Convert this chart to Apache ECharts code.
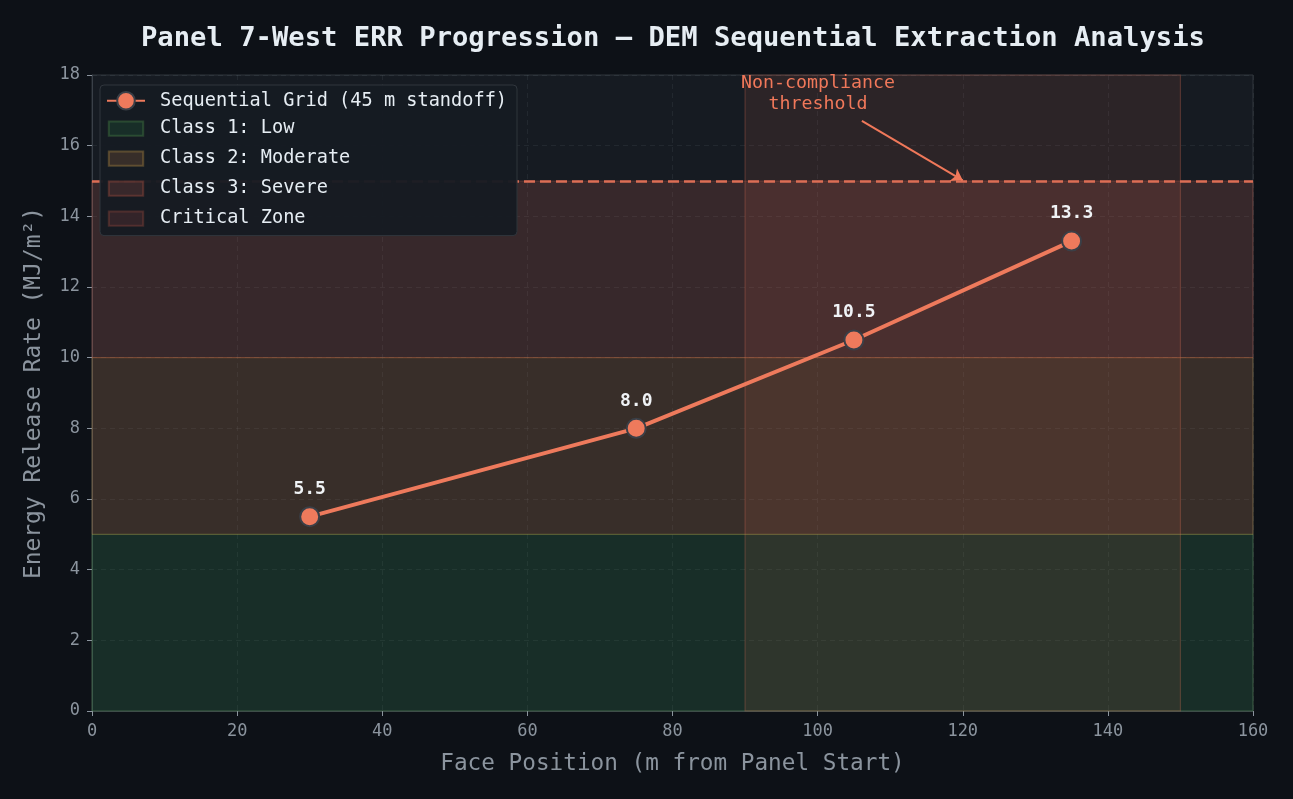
<!DOCTYPE html>
<html>
<head>
<meta charset="utf-8">
<script src="https://cdn.jsdelivr.net/npm/echarts@6/dist/echarts.min.js"></script>
<style>
  html, body { margin: 0; padding: 0; background: #0d1117; }
  #chart { width: 1293px; height: 799px; }
</style>
</head>
<body>
<div id="chart"></div>
<script>
const facePos = [30, 75, 105, 135];
const errValues = [5.5, 8.0, 10.5, 13.3];
const threshold = 15;
// hazard class bands [from, to] on the y axis
const classBands = [
  { name: 'Class 1: Low', from: 0, to: 5 },
  { name: 'Class 2: Moderate', from: 5, to: 10 },
  { name: 'Class 3: Severe', from: 10, to: 15 }
];
const criticalZone = [90, 150];

const FONT = 'DejaVu Sans Mono';
const lineColor = '#ee7a5c';
const bandColors = ['rgba(46,165,80,0.14)', 'rgba(210,135,75,0.18)', 'rgba(230,110,95,0.16)'];
const bandBorders = ['rgba(90,160,80,0.30)', 'rgba(190,150,70,0.35)', 'rgba(200,90,70,0.30)'];
const critColor = 'rgba(245,120,90,0.10)';
// rect swatch with vertical padding so it sits smaller than the legend box
const swatch = 'path://M0 0 M0 4 L36 4 L36 19 L0 19 Z M36 23';

const chart = echarts.init(document.getElementById('chart'));

const series = [];
classBands.forEach((b, i) => {
  series.push({
    name: b.name,
    type: 'line',
    data: [],
    color: bandColors[i],
    itemStyle: { color: bandColors[i], borderColor: bandBorders[i], borderWidth: 1 },
    markArea: {
      silent: true,
      itemStyle: { color: bandColors[i], borderColor: bandBorders[i], borderWidth: 1 },
      data: [[{ yAxis: b.from, xAxis: 0 }, { yAxis: b.to, xAxis: 160 }]]
    }
  });
});
series.push({
  name: 'Critical Zone',
  type: 'line',
  data: [],
  itemStyle: { color: 'rgba(200,90,80,0.16)', borderColor: 'rgba(200,90,70,0.25)', borderWidth: 1 },
  markArea: {
    silent: true,
    itemStyle: { color: critColor, borderColor: 'rgba(240,120,90,0.25)', borderWidth: 1.2 },
    data: [[{ xAxis: criticalZone[0], yAxis: 0 }, { xAxis: criticalZone[1], yAxis: 18 }]]
  }
});
series.push({
  name: 'Sequential Grid (45 m standoff)',
  type: 'line',
  data: facePos.map((x, i) => [x, errValues[i]]),
  z: 5,
  symbol: 'circle',
  symbolSize: 19,
  lineStyle: { color: lineColor, width: 4 },
  itemStyle: { color: lineColor, borderColor: '#3a3f47', borderWidth: 2 },
  label: {
    show: true,
    position: 'top',
    distance: 8,
    color: '#f0f3f6',
    fontFamily: FONT,
    fontWeight: 'bold',
    fontSize: 18,
    formatter: p => p.value[1].toFixed(1)
  },
  markLine: {
    silent: true,
    symbol: 'none',
    label: { show: false },
    lineStyle: { color: '#dc6e55', type: [11, 5], width: 2.5 },
    data: [{ yAxis: threshold }]
  }
});
// annotation arrow + text
series.push({
  name: 'annot',
  type: 'line',
  data: [],
  markLine: {
    silent: true,
    symbol: ['none', 'arrow'],
    symbolSize: 11,
    label: { show: false },
    lineStyle: { color: '#f0785a', type: 'solid', width: 2 },
    data: [[{ coord: [106.1, 16.7] }, { coord: [120, 15.02] }]]
  },
  markPoint: {
    silent: true,
    symbol: 'circle',
    symbolSize: 0,
    label: {
      show: true,
      position: 'inside',
      color: '#f0785a',
      fontFamily: FONT,
      fontSize: 18.3,
      lineHeight: 21,
      align: 'center',
      formatter: 'Non-compliance\nthreshold'
    },
    data: [{ coord: [100.05, 17.48] }]
  }
});

const option = {
  backgroundColor: '#0d1117',
  title: {
    text: 'Panel 7-West ERR Progression — DEM Sequential Extraction Analysis',
    left: 136,
    top: 20,
    textStyle: { color: '#e6edf3', fontFamily: FONT, fontWeight: 'bold', fontSize: 27.2 }
  },
  grid: {
    left: 92, right: 40, top: 75, bottom: 88,
    show: true,
    backgroundColor: '#161b22',
    borderColor: '#30363d',
    borderWidth: 1
  },
  legend: {
    left: 100,
    top: 85,
    z: 20,
    orient: 'vertical',
    itemGap: 6,
    itemWidth: 38,
    itemHeight: 22,
    padding: [6, 10, 5, 6],
    backgroundColor: 'rgba(22,27,34,0.96)',
    borderColor: '#30363d',
    borderWidth: 1,
    borderRadius: 4,
    textStyle: { color: '#e6edf3', fontFamily: FONT, fontSize: 18.6, padding: [0, 0, 0, 10] },
    data: [
      { name: 'Sequential Grid (45 m standoff)' },
      { name: 'Class 1: Low', icon: swatch },
      { name: 'Class 2: Moderate', icon: swatch },
      { name: 'Class 3: Severe', icon: swatch },
      { name: 'Critical Zone', icon: swatch }
    ]
  },
  xAxis: {
    type: 'value',
    min: 0, max: 160, interval: 20,
    name: 'Face Position (m from Panel Start)',
    nameLocation: 'middle',
    nameGap: 42,
    nameTextStyle: { color: '#8b949e', fontFamily: FONT, fontSize: 22.7 },
    axisLine: { lineStyle: { color: '#3a4048' } },
    axisTick: { show: true, length: 5, lineStyle: { color: '#8b949e' } },
    axisLabel: { color: '#8b949e', fontFamily: FONT, fontSize: 17, margin: 12 },
    splitLine: { show: true, lineStyle: { color: 'rgba(110,118,129,0.15)', type: [5, 4] } }
  },
  yAxis: {
    type: 'value',
    min: 0, max: 18, interval: 2,
    name: 'Energy Release Rate (MJ/m²)',
    nameLocation: 'middle',
    nameGap: 46,
    nameTextStyle: { color: '#8b949e', fontFamily: FONT, fontSize: 22.9 },
    axisLine: { show: true, lineStyle: { color: '#3a4048' } },
    axisTick: { show: true, length: 5, lineStyle: { color: '#8b949e' } },
    axisLabel: { color: '#8b949e', fontFamily: FONT, fontSize: 17, margin: 12 },
    splitLine: { show: true, lineStyle: { color: 'rgba(110,118,129,0.15)', type: [5, 4] } }
  },
  series: series
};
chart.setOption(option);
</script>
</body>
</html>
